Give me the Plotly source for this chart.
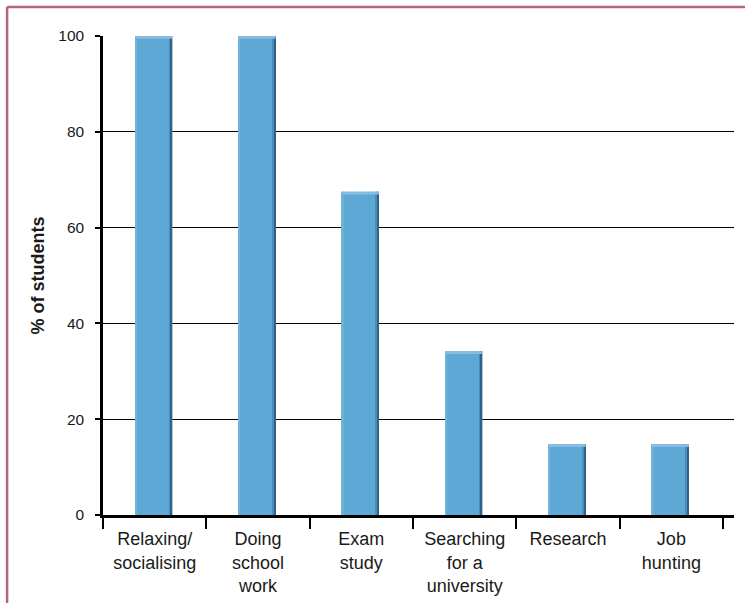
import plotly.graph_objects as go

# Activities and share of students (%)
categories = [
    "Relaxing/<br>socialising",
    "Doing<br>school<br>work",
    "Exam<br>study",
    "Searching<br>for a<br>university",
    "Research",
    "Job<br>hunting",
]
values = [100, 100, 67.5, 34.2, 14.8, 14.8]
y_ticks = [0, 20, 40, 60, 80, 100]

BAR = "#5ea8d6"
FONT = "Liberation Sans, Arial, Helvetica, sans-serif"

fig = go.Figure()

# main bar body
fig.add_trace(go.Bar(
    x=categories, y=values, width=0.36, offset=-0.19,
    marker=dict(color=BAR, line=dict(width=0)), hoverinfo="skip",
))
# light left edge
fig.add_trace(go.Bar(
    x=categories, y=values, width=0.018, offset=-0.19,
    marker=dict(color="#72b2db", line=dict(width=0)), hoverinfo="skip",
))
# shaded right edge
fig.add_trace(go.Bar(
    x=categories, y=values, width=0.016, offset=0.14,
    marker=dict(color="#4a8dbb", line=dict(width=0)), hoverinfo="skip",
))
fig.add_trace(go.Bar(
    x=categories, y=values, width=0.014, offset=0.156,
    marker=dict(color="#2e6487", line=dict(width=0)), hoverinfo="skip",
))
# highlight along the top
cap = 0.6
fig.add_trace(go.Bar(
    x=categories, y=[cap] * len(values), base=[v - cap for v in values],
    width=0.36, offset=-0.19,
    marker=dict(color="#86bce0", line=dict(width=0)), hoverinfo="skip",
))

fig.update_layout(
    width=754, height=603,
    margin=dict(l=103, r=20, t=36, b=88),
    paper_bgcolor="white", plot_bgcolor="white",
    barmode="overlay", showlegend=False,
    font=dict(family=FONT, size=18, color="#1a1a1a"),
    xaxis=dict(
        type="category", range=[-0.5, 5.606], automargin=False,
        tickson="boundaries", ticks="outside", ticklen=11, tickwidth=1.5,
        tickcolor="black", showline=True, linecolor="black", linewidth=2.5,
        showgrid=False, ticklabelstandoff=6,
        tickfont=dict(size=18, color="#1a1a1a"),
    ),
    yaxis=dict(
        range=[0, 100], tickvals=y_ticks, ticks="outside", ticklen=5,
        automargin=False,
        tickwidth=1.5, tickcolor="black", showline=True, linecolor="black",
        linewidth=2.5, showgrid=True, gridcolor="black", gridwidth=1.3,
        zeroline=False, ticklabelstandoff=8,
        tickfont=dict(size=15.5, color="#1a1a1a"),
        title=dict(text="% of students", standoff=9,
                   font=dict(size=18, color="#1a1a1a", weight="bold")),
    ),
    shapes=[
        dict(type="line", xref="paper", yref="paper",
             x0=-0.152, x1=-0.152, y0=1.0605, y1=-0.2,
             line=dict(color="#b5647c", width=2.5)),
        dict(type="line", xref="paper", yref="paper",
             x0=-0.152, x1=1.0174, y0=1.0605, y1=1.0605,
             line=dict(color="#b5647c", width=2.5)),
    ],
)

fig.write_html("out.html")
